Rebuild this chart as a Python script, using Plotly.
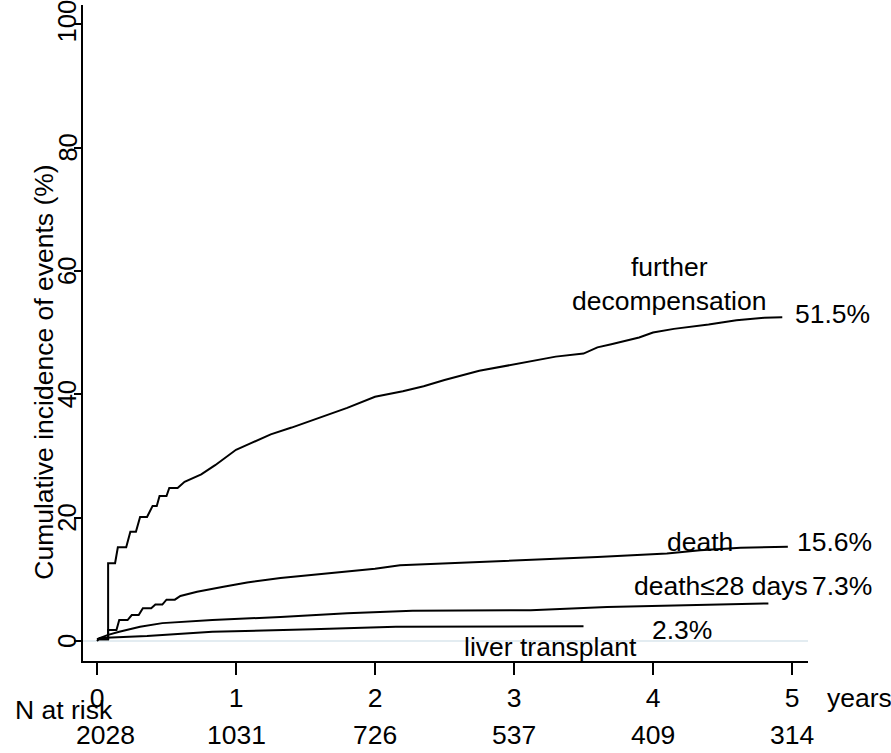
import plotly.graph_objects as go

# ---- data ----
further_t = [0, 0.08, 0.08, 0.13, 0.15, 0.21, 0.24, 0.28, 0.31, 0.36, 0.40, 0.43, 0.45, 0.50, 0.52, 0.58,
             0.63, 0.75, 0.85, 0.95, 1.0, 1.1, 1.25, 1.4, 1.6, 1.8, 2.0, 2.2, 2.35, 2.5, 2.75, 3.0,
             3.3, 3.5, 3.6, 3.7, 3.9, 4.0, 4.15, 4.4, 4.6, 4.8, 4.93]
further_v = [0.3, 0.3, 12.6, 12.6, 15.2, 15.2, 17.7, 17.7, 20.1, 20.1, 21.9, 21.9, 23.5, 23.5, 24.8, 24.8,
             25.8, 27.0, 28.5, 30.2, 31.0, 32.0, 33.5, 34.6, 36.2, 37.8, 39.6, 40.5, 41.3, 42.3, 43.8, 44.8,
             46.1, 46.6, 47.6, 48.1, 49.2, 50.0, 50.6, 51.3, 52.0, 52.4, 52.5]

death_t = [0, 0.08, 0.08, 0.14, 0.16, 0.22, 0.25, 0.30, 0.33, 0.39, 0.42, 0.47, 0.50, 0.56, 0.60,
           0.72, 0.91, 1.08, 1.32, 1.68, 2.0, 2.18, 2.52, 3.12, 3.6, 4.1, 4.34, 4.63, 4.97]
death_v = [0.3, 0.3, 1.8, 1.8, 3.4, 3.4, 4.2, 4.2, 5.3, 5.3, 5.9, 5.9, 6.7, 6.7, 7.3,
           8.0, 8.8, 9.5, 10.2, 11.0, 11.7, 12.3, 12.6, 13.1, 13.6, 14.2, 14.7, 15.1, 15.3]

death28_t = [0, 0.08, 0.16, 0.31, 0.47, 0.83, 1.32, 1.8, 2.27, 3.12, 3.67, 4.83]
death28_v = [0.3, 1.0, 1.5, 2.3, 2.9, 3.4, 3.9, 4.5, 4.9, 5.0, 5.5, 6.1]

liver_t = [0, 0.02, 0.36, 0.83, 1.55, 2.15, 3.5]
liver_v = [0.0, 0.5, 0.8, 1.5, 1.9, 2.3, 2.4]

x_ticks = [0, 1, 2, 3, 4, 5]
risk_x = [0.06, 1, 2, 3, 4, 5]
risk_n = ["2028", "1031", "726", "537", "409", "314"]
y_ticks = [0, 20, 40, 60, 80, 100]
y_tick_labels = ["0", "20", "40", "60", "80", "100"]

X_RANGE = [-0.1007, 5.115]
Y_RANGE = [-3.24, 103.1]

FONT = "Liberation Sans, Arial, Helvetica, sans-serif"
FS = 26.5

fig = go.Figure()
for tt, vv in [(further_t, further_v), (death_t, death_v), (death28_t, death28_v), (liver_t, liver_v)]:
    fig.add_trace(go.Scatter(x=tt, y=vv, mode="lines", line=dict(color="black", width=2),
                             showlegend=False, hoverinfo="skip"))

def xp(t):
    return (t - X_RANGE[0]) / (X_RANGE[1] - X_RANGE[0])

def yp(v):
    return (v - Y_RANGE[0]) / (Y_RANGE[1] - Y_RANGE[0])

ann = []
def A(text, x, y, xanchor="center", yanchor="middle", angle=0, size=FS):
    ann.append(dict(text=text, x=xp(x), y=yp(y), xref="paper", yref="paper", xanchor=xanchor,
                    yanchor=yanchor, showarrow=False, textangle=angle,
                    font=dict(family=FONT, size=size, color="black")))

A("further<br>decompensation", 4.115, 57.9)
A("51.5%", 5.007, 53.0, xanchor="left")
A("death", 4.34, 16.1)
A("15.6%", 5.02, 16.1, xanchor="left")
A("death≤28 days", 3.85, 8.9, xanchor="left")
A("7.3%", 5.13, 8.9, xanchor="left")
A("2.3%", 3.98, 1.8, xanchor="left")
A("liver transplant", 3.26, -1.0)
A("N at risk", -0.604, -11.2, xanchor="left")
A("years", 5.237, -9.24, xanchor="left")
A("Cumulative incidence of events (%)", -0.381, 43.5, angle=-90)
for xv, n in zip(risk_x, risk_n):
    A(n, xv, -18.0, yanchor="bottom")
# rotated y tick labels, placed on the y scale
for yv, lab in zip(y_ticks, y_tick_labels):
    A(lab, -0.215, yv + (0.45 if yv == 100 else 0), angle=-90, size=25.5)

fig.update_layout(
    width=891, height=753,
    margin=dict(l=83, r=83, t=5, b=92, autoexpand=False),
    paper_bgcolor="white", plot_bgcolor="white",
    font=dict(family=FONT, size=FS, color="black"),
    annotations=ann,
    xaxis=dict(range=X_RANGE, tickvals=x_ticks, ticks="outside", ticklen=12, tickwidth=2,
               tickcolor="black", showline=True, linecolor="black", linewidth=2, showgrid=False,
               zeroline=False, automargin=False, tickfont=dict(family=FONT, size=FS, color="black")),
    yaxis=dict(range=Y_RANGE, tickvals=y_ticks, ticks="outside", ticklen=7, tickwidth=2,
               tickcolor="black", showline=True, linecolor="black", linewidth=2, showgrid=False,
               zeroline=True, zerolinecolor="#e3ecf1", zerolinewidth=2, showticklabels=False,
               automargin=False),
)
fig.write_html("out.html", config={"displayModeBar": False},
               post_script="document.body.style.margin='0';document.body.style.overflow='hidden';")
